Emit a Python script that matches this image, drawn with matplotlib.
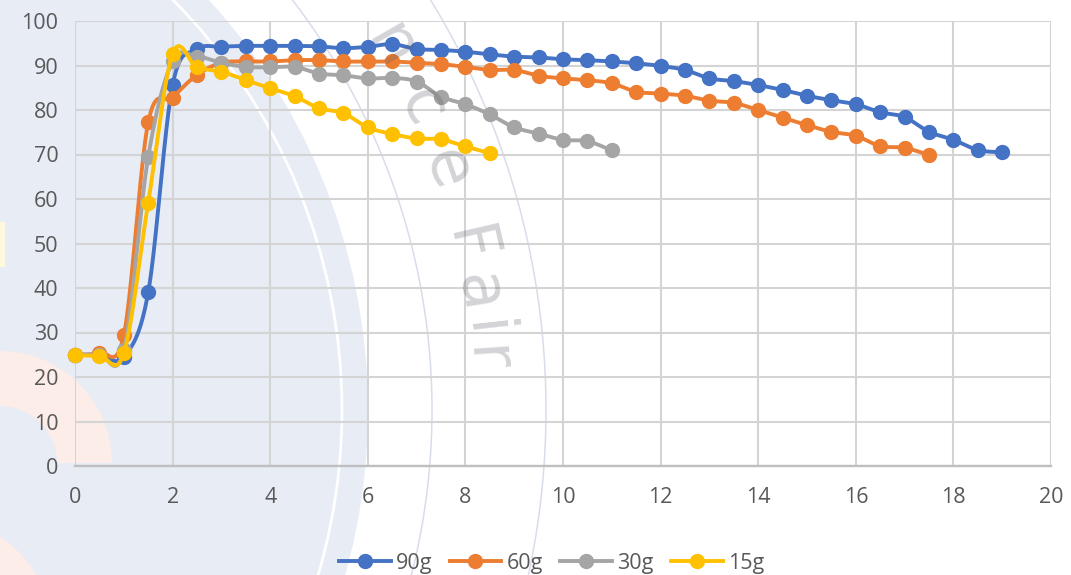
import numpy as np
import matplotlib
matplotlib.use("Agg")
import matplotlib.pyplot as plt
from matplotlib.lines import Line2D
from matplotlib.patches import Circle, Wedge, Rectangle

# ---- data -------------------------------------------------------------
series_names = ["90g", "60g", "30g", "15g"]
series_colors = ["#4472C4", "#ED7D31", "#A5A5A5", "#FFC000"]

y_90g = [25, 25, 24.5, 39, 85.6, 93.6, 94.2, 94.4, 94.4, 94.4, 94.3, 93.9,
         94.2, 94.8, 93.7, 93.5, 93.1, 92.5, 92.0, 91.8, 91.4, 91.2, 90.9,
         90.5, 89.9, 89.0, 87.1, 86.5, 85.6, 84.5, 83.2, 82.2, 81.3, 79.5,
         78.4, 75.1, 73.3, 71.0, 70.5]
y_60g = [25, 25.5, 29.4, 77.2, 82.8, 87.9, 90.6, 90.9, 90.9, 91.2, 91.2,
         90.9, 90.9, 90.9, 90.6, 90.3, 89.7, 89.0, 89.0, 87.7, 87.1, 86.7,
         86.0, 84.1, 83.7, 83.2, 82.1, 81.6, 80.0, 78.3, 76.6, 75.1, 74.2,
         71.9, 71.5, 69.9]
y_30g = [25, 25, 26, 69.5, 91, 92, 90.6, 89.7, 89.6, 89.7, 88.2, 87.8,
         87.1, 87.2, 86.4, 83.0, 81.3, 79.0, 76.1, 74.7, 73.3, 73.0, 70.9]
y_15g = [24.9, 24.8, 25.3, 59.2, 92.6, 89.6, 88.6, 86.7, 84.9, 83.1, 80.4,
         79.3, 76.1, 74.6, 73.6, 73.4, 71.8, 70.3]
x_step = 0.5

x_ticks = [0, 2, 4, 6, 8, 10, 12, 14, 16, 18, 20]
y_ticks = [0, 10, 20, 30, 40, 50, 60, 70, 80, 90, 100]

series_values = [y_90g, y_60g, y_30g, y_15g]


def smooth_curve(x, y, steps=24):
    """Bezier curve through the points with Catmull-Rom style handles."""
    p = np.column_stack([x, y]).astype(float)
    n = len(p)
    out = [p[0]]
    for i in range(n - 1):
        p_prev = p[i - 1] if i > 0 else p[i]
        p_next2 = p[i + 2] if i + 2 < n else p[i + 1]
        c1 = p[i] + (p[i + 1] - p_prev) / 6.0
        c2 = p[i + 1] - (p_next2 - p[i]) / 6.0
        t = np.linspace(0, 1, steps)[1:, None]
        seg = ((1 - t) ** 3) * p[i] + 3 * ((1 - t) ** 2) * t * c1 \
            + 3 * (1 - t) * t ** 2 * c2 + t ** 3 * p[i + 1]
        out.extend(seg)
    out = np.array(out)
    return out[:, 0], out[:, 1]


W, H = 1071, 575
plt.rcParams["font.family"] = ["Open Sans", "DejaVu Sans"]
fig = plt.figure(figsize=(W / 100, H / 100), dpi=100)
fig.patch.set_facecolor("white")

# ---- background decoration in pixel coordinates -------------------------
bg = fig.add_axes([0, 0, 1, 1], zorder=0)
bg.set_xlim(0, W)
bg.set_ylim(H, 0)
bg.axis("off")
cx, cy = -240, 410
bg.add_patch(Circle((cx, cy), 608, facecolor="#E7ECF5", edgecolor="none"))
bg.add_patch(Circle((cx, cy), 582, facecolor="none", edgecolor="white", lw=2.0))
bg.add_patch(Circle((cx, cy), 672, facecolor="none", edgecolor="#D8DDEA", lw=1.1))
bg.add_patch(Circle((cx, cy), 786, facecolor="none", edgecolor="#D8DDEA", lw=1.1))
bg.add_patch(Wedge((0, 463), 112, 270, 360, width=55,
                   facecolor="#FCEDE8", edgecolor="none"))
bg.add_patch(Wedge((-70, 640), 125, 270, 360, width=55,
                   facecolor="#FCEDE8", edgecolor="none"))
bg.add_patch(Rectangle((0, 222), 5, 45, facecolor="#FFF8DC", edgecolor="none"))

# ---- main chart ---------------------------------------------------------
ax = fig.add_axes([75 / W, 1 - 466 / H, (1051 - 75) / W, (466 - 21) / H],
                  zorder=1)
ax.set_facecolor("none")
ax.set_xlim(0, 20)
ax.set_ylim(0, 100)
ax.set_xticks(x_ticks)
ax.set_yticks(y_ticks)
ax.grid(True, color="#D4D4D4", lw=1.5)
ax.set_axisbelow(True)
for side in ["top", "right", "left"]:
    ax.spines[side].set_visible(False)
ax.spines["bottom"].set_color("#BFBFBF")
ax.spines["bottom"].set_linewidth(1.7)
ax.tick_params(axis="both", length=0, labelsize=15.5, labelcolor="#595959")
ax.tick_params(axis="y", pad=12)
ax.tick_params(axis="x", pad=15)

handles = []
for k, (name, vals, col) in enumerate(zip(series_names, series_values,
                                           series_colors)):
    xs = np.arange(len(vals)) * x_step
    sx, sy = smooth_curve(xs, vals)
    ax.plot(sx, sy, color=col, lw=2.8, solid_capstyle="round",
            zorder=3 + k, clip_on=False)
    ax.plot(xs, vals, "o", color=col, ms=10, zorder=3 + k, clip_on=False)
    handles.append(Line2D([], [], color=col, lw=2.8, marker="o", ms=10,
                          label=name))

fig.legend(handles=handles, loc="center", bbox_to_anchor=(0.515, 0.02),
           ncol=4, frameon=False, fontsize=15.5, labelcolor="#595959",
           handlelength=2.4, handletextpad=0.25, columnspacing=0.8)

# ---- faint lettering along the outer ring -------------------------------
ov = fig.add_axes([0, 0, 1, 1], zorder=5)
ov.set_xlim(0, W)
ov.set_ylim(H, 0)
ov.axis("off")
ov.patch.set_alpha(0)
letters = ["n", "c", "e", "F", "a", "i", "r"]
angles = [-30.0, -24.6, -19.3, -13.0, -9.3, -6.3, -4.0]
r_text = 728
for ch, a in zip(letters, angles):
    th = np.radians(a)
    px = cx + r_text * np.cos(th)
    py = cy + r_text * np.sin(th)
    ov.text(px, py, ch, fontsize=46, color="#5a5a66", alpha=0.26,
            rotation=-90 - a, rotation_mode="anchor",
            ha="center", va="center", family="DejaVu Sans")

fig.savefig("out.png", dpi=100, facecolor="white")
